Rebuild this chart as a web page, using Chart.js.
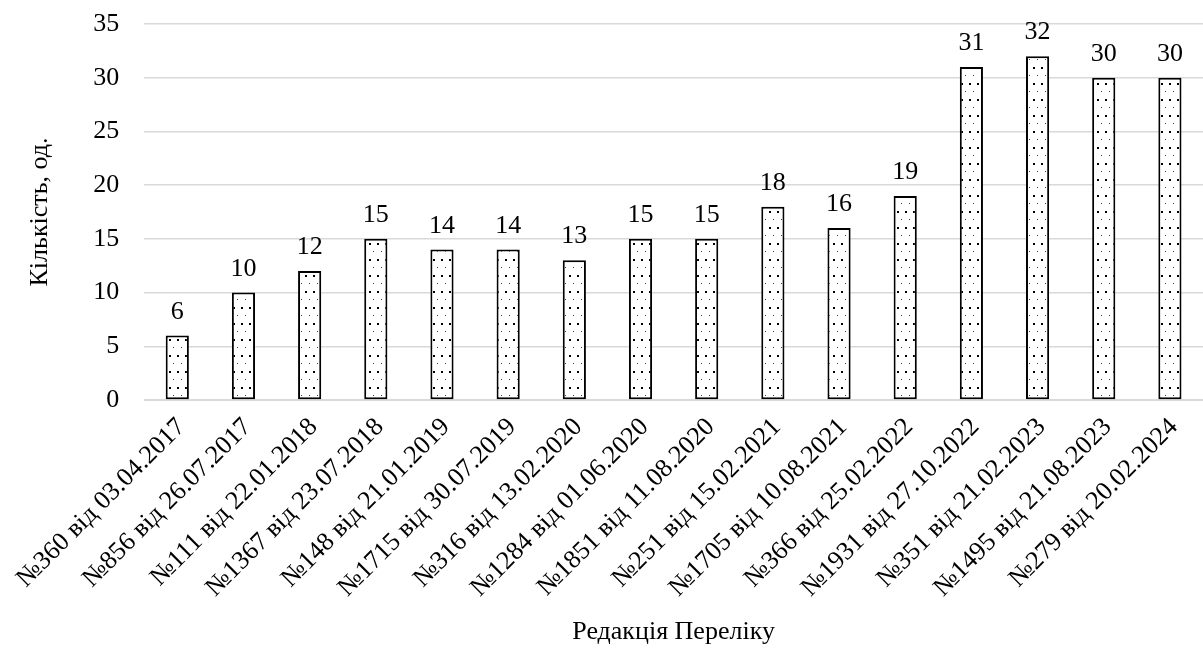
<!DOCTYPE html>
<html>
<head>
<meta charset="utf-8">
<script src="https://cdn.jsdelivr.net/npm/chart.js@4.4.1/dist/chart.umd.min.js"></script>
<style>
  html, body { margin: 0; padding: 0; background: #fff; }
  #wrap { width: 1203px; height: 670px; position: relative; }
</style>
</head>
<body>
<div id="wrap"><canvas id="c" width="1203" height="670"></canvas></div>
<script>
// Редакції Переліку та кількість позицій у кожній
const categories = [
  '№360 від 03.04.2017', '№856 від 26.07.2017', '№111 від 22.01.2018', '№1367 від 23.07.2018',
  '№148 від 21.01.2019', '№1715 від 30.07.2019', '№316 від 13.02.2020', '№1284 від 01.06.2020',
  '№1851 від 11.08.2020', '№251 від 15.02.2021', '№1705 від 10.08.2021', '№366 від 25.02.2022',
  '№1931 від 27.10.2022', '№351 від 21.02.2023', '№1495 від 21.08.2023', '№279 від 20.02.2024'
];
const counts = [6, 10, 12, 15, 14, 14, 13, 15, 15, 18, 16, 19, 31, 32, 30, 30];
const yTicks = [0, 5, 10, 15, 20, 25, 30, 35];

const FONT = "'Liberation Serif', 'Times New Roman', serif";
const FS = 26;

// dotted fill for the bars
function dotPattern() {
  const t = document.createElement('canvas');
  t.width = 8; t.height = 16;
  const g = t.getContext('2d');
  g.fillStyle = '#fff';
  g.fillRect(0, 0, 8, 16);
  g.fillStyle = '#000';
  g.fillRect(1, 3, 2, 2);
  g.fillStyle = '#444';
  g.fillRect(5, 11, 1, 1);
  return g.createPattern(t, 'repeat');
}

// value labels above each bar
const valueLabels = {
  id: 'valueLabels',
  afterDatasetsDraw(chart) {
    const ctx = chart.ctx;
    const meta = chart.getDatasetMeta(0);
    ctx.save();
    ctx.font = FS + 'px ' + FONT;
    ctx.fillStyle = '#000';
    ctx.textAlign = 'center';
    ctx.textBaseline = 'alphabetic';
    meta.data.forEach((bar, i) => {
      ctx.fillText(String(counts[i]), bar.x, bar.y - 17);
    });
    ctx.restore();
  }
};

new Chart(document.getElementById('c'), {
  type: 'bar',
  data: {
    labels: categories,
    datasets: [{
      data: counts,
      backgroundColor: dotPattern(),
      borderColor: '#000',
      borderWidth: 2,
      borderSkipped: false,
      barPercentage: 0.7,
      categoryPercentage: 0.5
    }]
  },
  options: {
    responsive: false,
    animation: false,
    layout: { padding: { left: 25, right: 0, top: 24, bottom: 0 } },
    plugins: {
      legend: { display: false },
      tooltip: { enabled: false }
    },
    scales: {
      x: {
        // fixed band below the plot for the slanted labels and the title
        afterFit(scale) {
          scale.height = 270;
          scale.paddingLeft = 0;
          scale.paddingRight = 0;
          scale.paddingTop = 0;
          scale.paddingBottom = 0;
        },
        grid: { display: false },
        border: { display: true, color: '#d9d9d9', width: 1 },
        ticks: {
          color: '#000',
          font: { family: FONT, size: FS },
          maxRotation: 45,
          minRotation: 45,
          autoSkip: false,
          labelOffset: 4,
          padding: 4
        },
        title: {
          display: true,
          text: 'Редакція Переліку',
          color: '#000',
          font: { family: FONT, size: FS },
          padding: { top: 0, bottom: 22 }
        }
      },
      y: {
        min: 0,
        max: 35,
        afterBuildTicks(axis) { axis.ticks = yTicks.map(v => ({ value: v })); },
        afterFit(scale) {
          scale.paddingTop = 0;
          scale.paddingBottom = 0;
        },
        grid: { color: '#d9d9d9', lineWidth: 1.5, drawTicks: false },
        border: { display: false },
        ticks: {
          color: '#000',
          font: { family: FONT, size: FS },
          padding: 25
        },
        title: {
          display: true,
          text: 'Кількість, од.',
          color: '#000',
          font: { family: FONT, size: FS },
          padding: { top: 0, bottom: 12 }
        }
      }
    }
  },
  plugins: [valueLabels]
});
</script>
</body>
</html>
